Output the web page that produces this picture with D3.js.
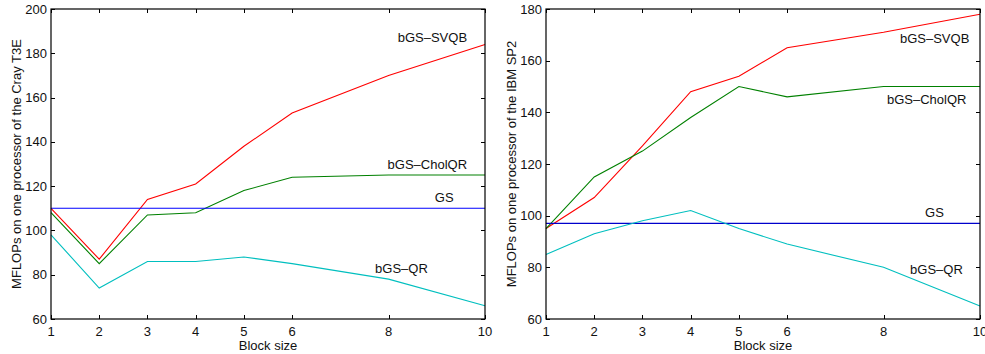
<!DOCTYPE html>
<html>
<head>
<meta charset="utf-8">
<script src="https://cdn.jsdelivr.net/npm/d3@7"></script>
<style>
  body { margin: 0; background: #fff; }
  svg text { font-family: "Liberation Sans", Arial, sans-serif; font-size: 13px; fill: #111; }
</style>
</head>
<body>
<svg id="chart" width="985" height="354"></svg>
<script>
// block sizes used on the x axis
var blockSizes = [1, 2, 3, 4, 5, 6, 8, 10];
var xTicks = [1, 2, 3, 4, 5, 6, 8, 10];

// Cray T3E (left panel)
var crayGS = [110, 110, 110, 110, 110, 110, 110, 110];
var craySVQB = [110, 87, 114, 121, 138, 153, 170, 184];
var crayCholQR = [108, 85, 107, 108, 118, 124, 125, 125];
var crayQR = [98, 74, 86, 86, 88, 85, 78, 66];
var crayYTicks = [60, 80, 100, 120, 140, 160, 180, 200];

// IBM SP2 (right panel)
var ibmGS = [97, 97, 97, 97, 97, 97, 97, 97];
var ibmSVQB = [95, 107, 127, 148, 154, 165, 171, 178];
var ibmCholQR = [95, 115, 125, 138, 150, 146, 150, 150];
var ibmQR = [85, 93, 98, 102, 95, 89, 80, 65];
var ibmYTicks = [60, 80, 100, 120, 140, 160, 180];

var seriesNames = ["bGS\u2013SVQB", "bGS\u2013CholQR", "GS", "bGS\u2013QR"];

var svg = d3.select("#chart");

function panel(opts) {
  var x = d3.scaleLinear().domain([1, 10]).range([opts.left, opts.right]);
  var y = d3.scaleLinear().domain(opts.yDomain).range([opts.bottom, opts.top]);
  var g = svg.append("g");
  var tick = 4;

  // lines
  var line = d3.line()
    .x(function(d, i) { return x(blockSizes[i]); })
    .y(function(d) { return y(d); });

  opts.series.forEach(function(s) {
    g.append("path")
      .attr("d", line(s.values))
      .attr("fill", "none")
      .attr("stroke", s.color)
      .attr("stroke-width", 1.1);
  });

  // series labels, placed like matlab text(x, y, ...)
  opts.series.forEach(function(s) {
    g.append("text")
      .attr("x", x(s.label[0]))
      .attr("y", y(s.label[1]))
      .attr("dy", "0.35em")
      .text(s.name);
  });

  // box
  g.append("rect")
    .attr("x", opts.left).attr("y", opts.top)
    .attr("width", opts.right - opts.left)
    .attr("height", opts.bottom - opts.top)
    .attr("fill", "none")
    .attr("stroke", "#000")
    .attr("stroke-width", 1.2);

  // x ticks (inward, top and bottom)
  xTicks.forEach(function(t) {
    var px = Math.round(x(t)) + 0.5;
    g.append("line").attr("x1", px).attr("x2", px)
      .attr("y1", opts.bottom).attr("y2", opts.bottom - tick).attr("stroke", "#000");
    g.append("line").attr("x1", px).attr("x2", px)
      .attr("y1", opts.top).attr("y2", opts.top + tick).attr("stroke", "#000");
    g.append("text")
      .attr("x", x(t)).attr("y", opts.bottom + 17)
      .attr("text-anchor", "middle")
      .text(t);
  });

  // y ticks (inward, left and right)
  opts.yTicks.forEach(function(t) {
    var py = Math.round(y(t)) + 0.5;
    g.append("line").attr("x1", opts.left).attr("x2", opts.left + tick)
      .attr("y1", py).attr("y2", py).attr("stroke", "#000");
    g.append("line").attr("x1", opts.right).attr("x2", opts.right - tick)
      .attr("y1", py).attr("y2", py).attr("stroke", "#000");
    g.append("text")
      .attr("x", opts.left - 4).attr("y", y(t))
      .attr("dy", "0.35em")
      .attr("text-anchor", "end")
      .text(t);
  });

  // axis titles
  g.append("text")
    .attr("x", (opts.left + opts.right) / 2).attr("y", opts.bottom + 31)
    .attr("text-anchor", "middle")
    .text("Block size");
  g.append("text")
    .attr("transform", "translate(" + (opts.left - 30) + "," + ((opts.top + opts.bottom) / 2) + ") rotate(-90)")
    .attr("text-anchor", "middle")
    .text(opts.yLabel);
}

panel({
  left: 51, right: 485, top: 9, bottom: 319,
  yDomain: [60, 200], yTicks: crayYTicks,
  yLabel: "MFLOPs on one processor of the Cray T3E",
  series: [
    { name: seriesNames[0], values: craySVQB, color: "#ff0000", label: [8.19, 187] },
    { name: seriesNames[1], values: crayCholQR, color: "#008000", label: [7.98, 130] },
    { name: seriesNames[2], values: crayGS, color: "#0000ff", label: [8.96, 115] },
    { name: seriesNames[3], values: crayQR, color: "#00bfbf", label: [7.72, 83] }
  ]
});

panel({
  left: 546, right: 980, top: 9, bottom: 319,
  yDomain: [60, 180], yTicks: ibmYTicks,
  yLabel: "MFLOPs on one processor of the IBM SP2",
  series: [
    { name: seriesNames[0], values: ibmSVQB, color: "#ff0000", label: [8.34, 168.5] },
    { name: seriesNames[1], values: ibmCholQR, color: "#008000", label: [8.07, 145] },
    { name: seriesNames[2], values: ibmGS, color: "#0000cc", label: [8.86, 101.4] },
    { name: seriesNames[3], values: ibmQR, color: "#00bfbf", label: [8.55, 79] }
  ]
});
</script>
</body>
</html>
